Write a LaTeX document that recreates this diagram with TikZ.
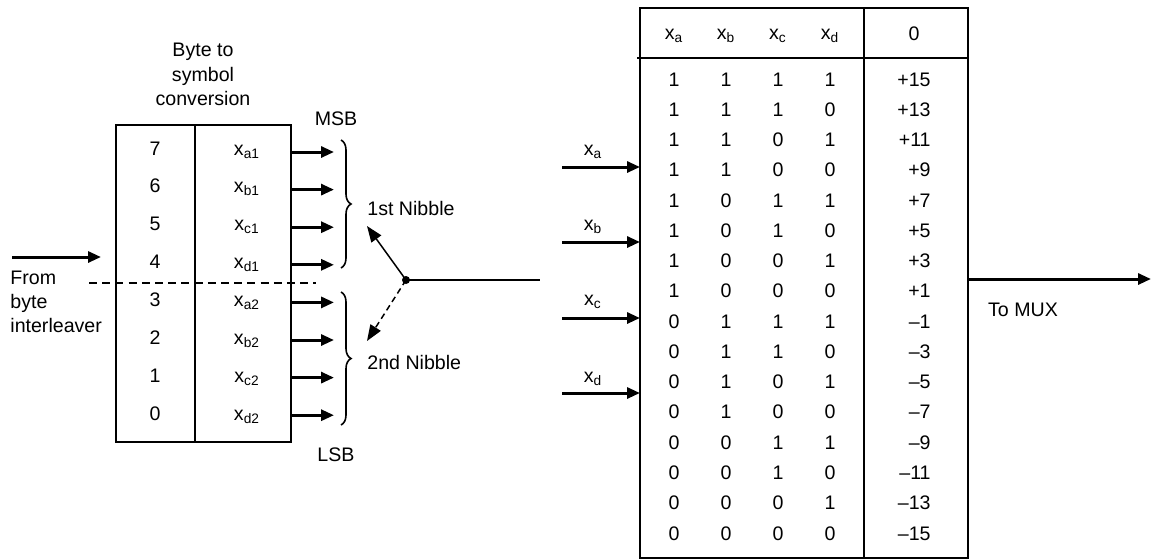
\documentclass[tikz,border=0pt]{standalone}
\usepackage{fontspec}
\setmainfont{Liberation Sans}
\usetikzlibrary{arrows.meta,decorations.pathreplacing}
\begin{document}
\begin{tikzpicture}[x=0.5pt,y=-0.5pt,
  every node/.style={font=\fontsize{9.8}{12.2}\selectfont, inner sep=0pt},
  lbl/.style={anchor=base},
  boxline/.style={line width=0.75pt},
  divline/.style={line width=1pt},
  sigarrow/.style={line width=1.5pt, -{Triangle[length=6.5pt,width=5.5pt]}},
  thinarrow/.style={line width=0.75pt, -{Triangle[length=8pt,width=6pt]}},
  bracestyle/.style={line width=0.8pt, decorate, decoration={brace, amplitude=5pt}},
  dashline/.style={line width=0.8pt, dash pattern=on 4pt off 2.6pt},
]
\useasboundingbox (0,0) rectangle (1152,559);

% ---- left box ----
\node[draw, boxline, minimum width=87.5pt, minimum height=158.5pt, anchor=north west] (lbox) at (115,124) {};
\coordinate (ldivtop) at (195,124);
\coordinate (ldivbot) at (195,441);
\draw[boxline] (ldivtop) -- (ldivbot);

\node[lbl] (t1) at (203,56) {Byte to};
\node[lbl] (t2) at (203,81) {symbol};
\node[lbl] (t3) at (203,105) {conversion};

\foreach \d/\s [count=\i from 0] in {7/a1,6/b1,5/c1,4/d1,3/a2,2/b2,1/c2,0/d2}{
  \pgfmathsetmacro{\yb}{155+37.86*\i}
  \pgfmathsetmacro{\ya}{152+37.6*\i}
  \node[lbl] (bit\d) at (155,\yb) {\d};
  \node[lbl] (sym\d) at (247,\yb) {x\textsubscript{\s}};
  \coordinate (as\d) at (290,\ya);
  \coordinate (ae\d) at (334,\ya);
  \draw[sigarrow] (as\d) -- (ae\d);
}

% input arrow
\coordinate (inS) at (12,257);
\coordinate (inE) at (101,257);
\draw[sigarrow] (inS) -- (inE);
\node[lbl, anchor=base west] (from1) at (10,284) {From};
\node[lbl, anchor=base west] (from2) at (10,308) {byte};
\node[lbl, anchor=base west] (from3) at (10,332) {interleaver};

% dashed separation
\coordinate (dS) at (89,283);
\coordinate (dE) at (316,283);
\draw[dashline] (dS) -- (dE);

% braces
\coordinate (b1t) at (341,140);
\coordinate (b1b) at (341,268);
\coordinate (b2t) at (341,292);
\coordinate (b2b) at (341,425);
\draw[bracestyle] (b1t) -- (b1b);
\draw[bracestyle] (b2t) -- (b2b);

\node[lbl] (msb) at (336,125) {MSB};
\node[lbl] (lsb) at (336,461) {LSB};
\node[lbl, anchor=base west] (nib1) at (367,215) {1st Nibble};
\node[lbl, anchor=base west] (nib2) at (367,369) {2nd Nibble};

% switch
\node[circle, fill, minimum size=4pt] (dot) at (406,280) {};
\coordinate (swOut) at (540,280);
\coordinate (up) at (367,226);
\coordinate (down) at (367,341);
\draw[line width=0.75pt] (dot.center) -- (swOut);
\draw[thinarrow] (dot.center) -- (up);
\draw[thinarrow, dash pattern=on 3pt off 2pt] (dot.center) -- (down);

% ---- right table ----
\node[draw, boxline, minimum width=164pt, minimum height=275pt, anchor=north west] (tbl) at (639,7) {};
\coordinate (rdivtop) at (864,7);
\coordinate (rdivbot) at (864,557);
\coordinate (hl) at (637,58);
\coordinate (hr) at (967,58);
\draw[divline] (rdivtop) -- (rdivbot);
\draw[divline] (hl) -- (hr);

\node[lbl] (ha) at (674,39) {x\textsubscript{a}};
\node[lbl] (hb) at (726,39) {x\textsubscript{b}};
\node[lbl] (hc) at (778,39) {x\textsubscript{c}};
\node[lbl] (hd) at (830,39) {x\textsubscript{d}};
\node[lbl] (hz) at (914,40) {0};

\foreach \a/\b/\c/\e/\v [count=\i from 0] in {
  1/1/1/1/+15, 1/1/1/0/+13, 1/1/0/1/+11, 1/1/0/0/+9,
  1/0/1/1/+7, 1/0/1/0/+5, 1/0/0/1/+3, 1/0/0/0/+1,
  0/1/1/1/\textendash1, 0/1/1/0/\textendash3, 0/1/0/1/\textendash5, 0/1/0/0/\textendash7,
  0/0/1/1/\textendash9, 0/0/1/0/\textendash11, 0/0/0/1/\textendash13, 0/0/0/0/\textendash15}{
  \pgfmathsetmacro{\yb}{86+30.27*\i}
  \node[lbl] (ra\i) at (674,\yb) {\a};
  \node[lbl] (rb\i) at (726,\yb) {\b};
  \node[lbl] (rc\i) at (778,\yb) {\c};
  \node[lbl] (rd\i) at (830,\yb) {\e};
  \node[anchor=base east] (rv\i) at (931,\yb) {\v};
}

% table inputs
\foreach \s/\ya/\yl in {a/167/155, b/242/230, c/318/305, d/393/382}{
  \coordinate (ti\s) at (562,\ya);
  \coordinate (te\s) at (640,\ya);
  \draw[sigarrow] (ti\s) -- (te\s);
  \node[lbl] (tl\s) at (593,\yl) {x\textsubscript{\s}};
}

% output
\coordinate (oS) at (967,279);
\coordinate (oE) at (1151,279);
\draw[sigarrow] (oS) -- (oE);
\node[lbl] (mux) at (1023,316) {To MUX};
\end{tikzpicture}
\end{document}
